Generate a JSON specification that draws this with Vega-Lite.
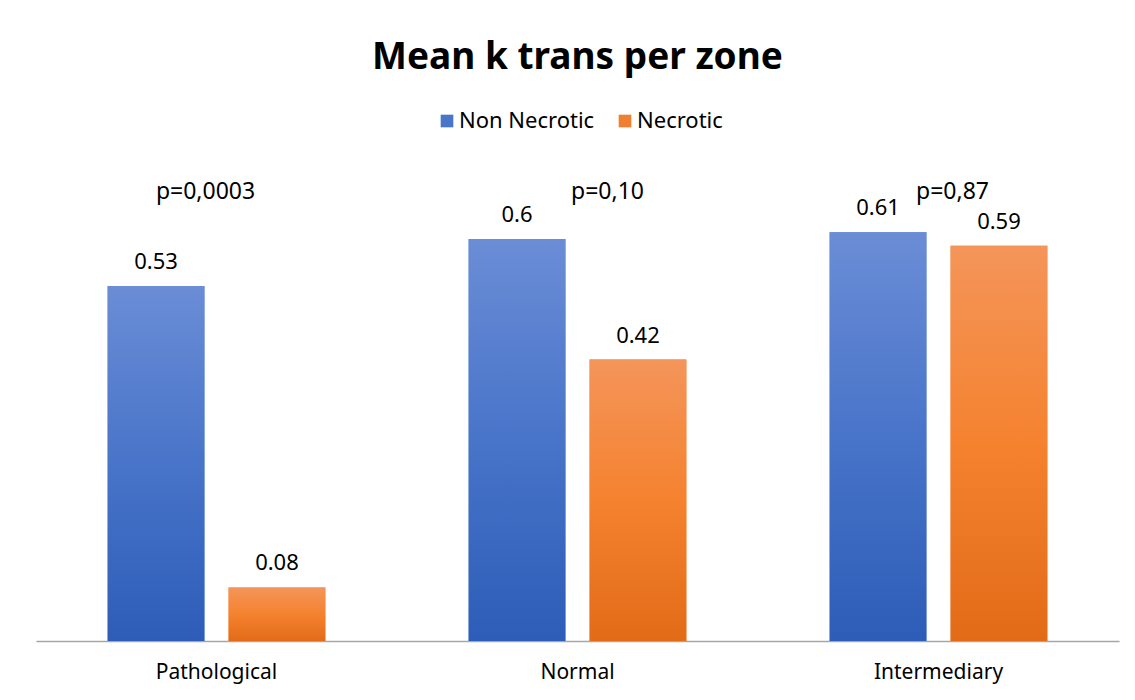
{
  "$schema": "https://vega.github.io/schema/vega-lite/v6.json",
  "autosize": "none",
  "width": 1083,
  "height": 469,
  "padding": {"left": 36, "top": 172, "right": 16, "bottom": 59},
  "background": "white",
  "config": {
    "view": {"stroke": null},
    "font": "Noto Sans"
  },
  "title": {
    "text": "Mean k trans per zone",
    "fontSize": 37,
    "fontWeight": "bold",
    "font": "Noto Sans",
    "color": "#000000",
    "anchor": "middle",
    "offset": 33
  },
  "datasets": {
    "bars": [
      {"zone": "Pathological", "series": "Non Necrotic", "value": 0.53},
      {"zone": "Pathological", "series": "Necrotic", "value": 0.08},
      {"zone": "Normal", "series": "Non Necrotic", "value": 0.6},
      {"zone": "Normal", "series": "Necrotic", "value": 0.42},
      {"zone": "Intermediary", "series": "Non Necrotic", "value": 0.61},
      {"zone": "Intermediary", "series": "Necrotic", "value": 0.59}
    ],
    "pvals": [
      {"zone": "Pathological", "label": "p=0,0003", "pos": 0.67},
      {"zone": "Normal", "label": "p=0,10", "pos": 0.67},
      {"zone": "Intermediary", "label": "p=0,87", "pos": 0.67}
    ]
  },
  "data": {"name": "bars"},
  "encoding": {
    "x": {
      "field": "zone",
      "type": "nominal",
      "scale": {"domain": ["Pathological", "Normal", "Intermediary"], "paddingInner": 0.33, "paddingOuter": 0.165},
      "axis": {
        "title": null,
        "labelAngle": 0,
        "labelFontSize": 21,
        "labelFont": "Noto Sans",
        "labelColor": "#000000",
        "labelPadding": 20,
        "ticks": false,
        "domainColor": "#a6a6a6",
        "domainWidth": 1.5
      }
    },
    "y": {
      "field": "value",
      "type": "quantitative",
      "scale": {"domain": [0, 0.7]},
      "axis": null
    }
  },
  "layer": [
    {
      "mark": {"type": "bar"},
      "encoding": {
        "xOffset": {
          "field": "series",
          "type": "nominal",
          "scale": {"domain": ["Non Necrotic", "Necrotic"], "paddingInner": 0.2, "paddingOuter": 0.1}
        },
        "color": {
          "field": "series",
          "type": "nominal",
          "scale": {"domain": ["Non Necrotic", "Necrotic"], "range": ["#4a76c9", "#f07f32"]},
          "legend": {
            "title": null,
            "orient": "none",
            "direction": "horizontal",
            "legendX": 400,
            "legendY": -62,
            "symbolType": "square",
            "symbolSize": 160,
            "symbolStrokeWidth": 0,
            "labelFontSize": 22,
            "labelFont": "Noto Sans",
            "labelColor": "#000000",
            "columnPadding": 19,
            "labelOffset": 1
          }
        }
      }
    },
    {
      "transform": [{"filter": "datum.series === 'Non Necrotic'"}],
      "mark": {
        "type": "bar",
        "fill": {
          "gradient": "linear", "x1": 0, "y1": 0, "x2": 0, "y2": 1,
          "stops": [
            {"offset": 0, "color": "#6b8dd6"},
            {"offset": 0.5, "color": "#4874c9"},
            {"offset": 1, "color": "#2d5db8"}
          ]
        }
      },
      "encoding": {
        "xOffset": {"field": "series", "type": "nominal"}
      }
    },
    {
      "transform": [{"filter": "datum.series === 'Necrotic'"}],
      "mark": {
        "type": "bar",
        "fill": {
          "gradient": "linear", "x1": 0, "y1": 0, "x2": 0, "y2": 1,
          "stops": [
            {"offset": 0, "color": "#f4955a"},
            {"offset": 0.5, "color": "#f5822f"},
            {"offset": 1, "color": "#e26b17"}
          ]
        }
      },
      "encoding": {
        "xOffset": {"field": "series", "type": "nominal"}
      }
    },
    {
      "mark": {"type": "text", "baseline": "bottom", "dy": -12, "fontSize": 22, "font": "Noto Sans", "color": "#000000"},
      "encoding": {
        "xOffset": {"field": "series", "type": "nominal"},
        "text": {"field": "value", "type": "quantitative"}
      }
    },
    {
      "data": {"name": "pvals"},
      "transform": [{"filter": "datum.zone === 'Pathological'"}],
      "mark": {"type": "text", "baseline": "middle", "dx": -11, "fontSize": 23, "font": "Noto Sans", "color": "#000000"},
      "encoding": {
        "y": {"field": "pos", "type": "quantitative"},
        "text": {"field": "label", "type": "nominal"}
      }
    },
    {
      "data": {"name": "pvals"},
      "transform": [{"filter": "datum.zone === 'Normal'"}],
      "mark": {"type": "text", "baseline": "middle", "dx": 30, "fontSize": 23, "font": "Noto Sans", "color": "#000000"},
      "encoding": {
        "y": {"field": "pos", "type": "quantitative"},
        "text": {"field": "label", "type": "nominal"}
      }
    },
    {
      "data": {"name": "pvals"},
      "transform": [{"filter": "datum.zone === 'Intermediary'"}],
      "mark": {"type": "text", "baseline": "middle", "dx": 14, "fontSize": 23, "font": "Noto Sans", "color": "#000000"},
      "encoding": {
        "y": {"field": "pos", "type": "quantitative"},
        "text": {"field": "label", "type": "nominal"}
      }
    }
  ]
}
